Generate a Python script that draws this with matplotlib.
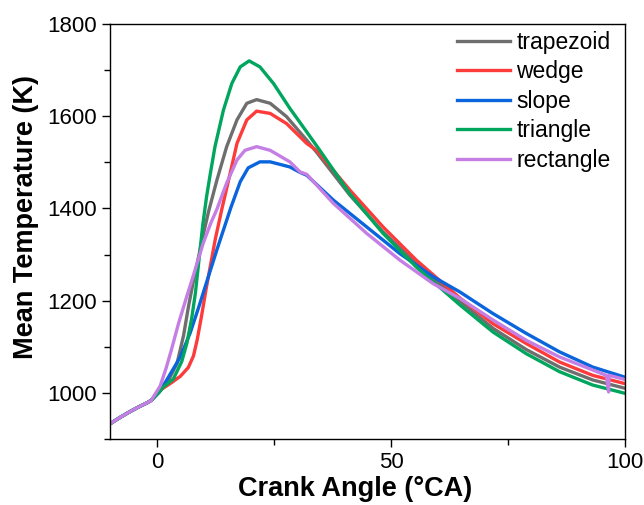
import numpy as np
import matplotlib
matplotlib.use("Agg")
import matplotlib.pyplot as plt
from matplotlib.ticker import MultipleLocator

plt.rcParams['font.family'] = ['Liberation Sans', 'DejaVu Sans']

# shared compression part (before 0 CA)
x_pre = [-10, -8, -6, -4, -2, -1.2]
y_pre = [933, 946, 958, 969, 979, 984]

x_trap = x_pre + [0.5, 2.1, 4.3, 5.7, 6.7, 7.7, 9.9, 11.0, 12.8, 14.9, 17.1, 19.2, 21.3, 24.2, 27.7, 32.0, 34.1,
                  41.2, 48.3, 55.4, 64.7, 71.8, 78.9, 86.0, 93.1, 100]
y_trap = y_pre + [1002, 1020, 1064, 1125, 1185, 1238, 1343, 1392, 1461, 1534, 1592, 1628, 1636, 1628, 1599, 1548, 1522,
                  1429, 1349, 1281, 1199, 1140, 1094, 1056, 1028, 1010]

x_wedge = x_pre + [0.7, 2.8, 5.0, 6.7, 7.8, 8.6, 9.5, 10.5, 11.5, 12.5, 13.9, 15.3, 17.1, 19.2, 21.3, 24.2, 27.7,
                   32.0, 34.1, 41.2, 48.3, 55.4, 64.7, 71.8, 78.9, 86.0, 93.1, 100]
y_wedge = y_pre + [1006, 1020, 1036, 1055, 1080, 1115, 1165, 1225, 1280, 1335, 1400, 1461, 1541, 1592, 1611, 1606, 1584,
                   1541, 1526, 1440, 1360, 1288, 1206, 1150, 1107, 1067, 1038, 1020]

x_slope = x_pre + [0.5, 2.1, 5.0, 7.1, 8.9, 10.3, 12.8, 15.8, 17.8, 19.5, 22.0, 24.2, 28.4, 30.6, 32.0, 37.7, 44.8,
                   51.9, 59.0, 64.7, 71.8, 78.9, 86.0, 93.1, 100]
y_slope = y_pre + [1002, 1028, 1078, 1130, 1185, 1230, 1310, 1402, 1458, 1488, 1501, 1501, 1490, 1478, 1472, 1418, 1360,
                   1302, 1252, 1219, 1172, 1129, 1089, 1056, 1034]

x_tri = x_pre + [0.5, 1.4, 3.5, 5.3, 6.4, 7.4, 8.2, 9.0, 9.8, 10.6, 11.4, 12.4, 14.2, 16.0, 17.8, 19.7, 22.0, 24.9,
                 28.4, 32.0, 34.8, 41.2, 48.3, 55.4, 64.7, 71.8, 78.9, 86.0, 93.1, 100]
y_tri = y_pre + [1002, 1013, 1030, 1068, 1108, 1160, 1215, 1290, 1365, 1425, 1475, 1534, 1613, 1671, 1707, 1720, 1707,
                 1671, 1617, 1566, 1526, 1432, 1346, 1273, 1191, 1132, 1085, 1046, 1017, 999]

x_rect = x_pre + [0.7, 2.0, 3.0, 4.6, 6.4, 7.8, 9.9, 11.5, 12.8, 14.9, 17.1, 18.8, 21.3, 24.2, 28.4, 30.6, 32.0, 37.7,
                  44.8, 51.9, 59.0, 64.7, 71.8, 78.9, 86.0, 96.0, 96.5, 96.6, 100]
y_rect = y_pre + [1015, 1055, 1090, 1150, 1210, 1255, 1325, 1368, 1398, 1455, 1505, 1526, 1534, 1526, 1501, 1479, 1474,
                  1411, 1346, 1288, 1237, 1205, 1158, 1114, 1078, 1038, 1002, 1038, 1029]

names = ['trapezoid', 'wedge', 'slope', 'triangle', 'rectangle']
colors = ['#6e6e6e', '#fd3b3b', '#0a64dc', '#00a65e', '#c47ee4']
series = [(x_trap, y_trap), (x_wedge, y_wedge), (x_slope, y_slope), (x_tri, y_tri), (x_rect, y_rect)]

fig = plt.figure(figsize=(6.44, 5.05), dpi=100)
ax = fig.add_axes([0.171, 0.1307, 0.7995, 0.8218])

for (xs, ys), name, c in zip(series, names, colors):
    ax.plot(xs, ys, color=c, lw=2.4, label=name, solid_joinstyle='round')

ax.set_xlim(-10, 100)
ax.set_ylim(900, 1800)
ax.xaxis.set_major_locator(MultipleLocator(50))
ax.xaxis.set_minor_locator(MultipleLocator(25))
ax.yaxis.set_major_locator(MultipleLocator(200))
ax.yaxis.set_minor_locator(MultipleLocator(100))
ax.tick_params(which='both', direction='out', top=False, right=False, labelsize=16)
ax.tick_params(which='major', length=6, width=1)
ax.tick_params(which='minor', length=4, width=1)
for s in ax.spines.values():
    s.set_linewidth(1)

ax.set_xlabel('Crank Angle (°CA)', fontsize=19.5, fontweight='bold', labelpad=2)
ax.set_ylabel('Mean Temperature (K)', fontsize=19.5, fontweight='bold', labelpad=6)
ax.xaxis.label.set_x(0.476)
ax.yaxis.label.set_y(0.534)

ax.legend(loc='upper right', bbox_to_anchor=(0.99, 1.005), frameon=False, fontsize=16.5,
          handlelength=2.3, labelspacing=0.28, handletextpad=0.3, borderaxespad=0)

fig.savefig('out.png', dpi=100)
